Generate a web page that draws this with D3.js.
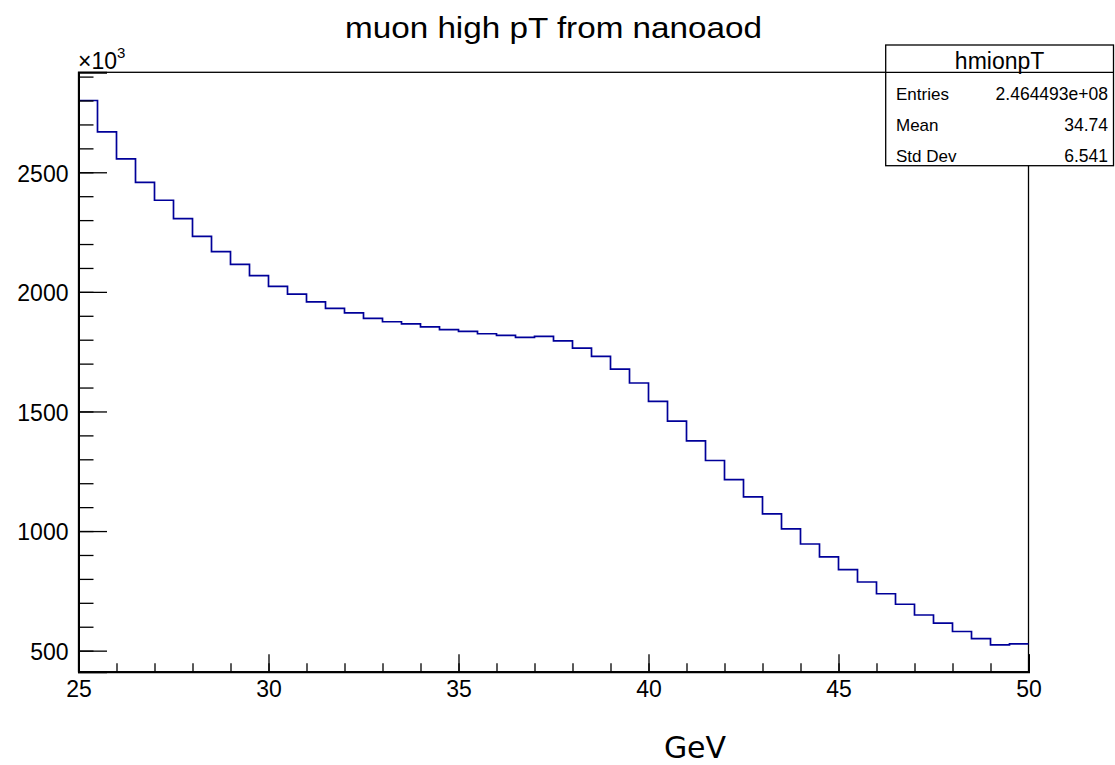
<!DOCTYPE html>
<html>
<head>
<meta charset="utf-8">
<script src="https://cdn.jsdelivr.net/npm/d3@7"></script>
<style>
  html, body { margin: 0; padding: 0; background: #fff; }
  svg { display: block; font-family: "Liberation Sans", Arial, Helvetica, sans-serif; }
</style>
</head>
<body>
<svg id="chart" width="1115" height="765"></svg>
<script>
// Histogram of muon pT, 50 bins of 0.5 GeV between 25 and 50 GeV (contents in units of 10^3)
const binLow = 25;
const binWidth = 0.5;
const binContents = [
  2800, 2669, 2556, 2458, 2383, 2306, 2232, 2168, 2115, 2068,
  2023, 1991, 1958, 1931, 1912, 1889, 1875, 1866, 1854, 1842,
  1835, 1825, 1818, 1810, 1814, 1795, 1765, 1730, 1677, 1619,
  1542, 1460, 1377, 1295, 1215, 1143, 1072, 1009, 946, 892,
  839, 787, 738, 694, 649, 615, 580, 550, 524, 528
];
const xMajorTicks = [25, 30, 35, 40, 45, 50];
const xMinorTicks = d3.range(25, 51, 1);
const yMajorTicks = [500, 1000, 1500, 2000, 2500];
const yMinorTicks = d3.range(500, 3000, 100);
const statNames = ["Entries", "Mean", "Std Dev"];
const statValues = ["2.464493e+08", "34.74", "6.541"];

const svg = d3.select("#chart");

const frame = { left: 78.5, right: 1028.5, top: 72.3, bottom: 671.7 };
const x = d3.scaleLinear().domain([25, 50]).range([frame.left, frame.right]);
const y = d3.scaleLinear().domain([412, 2918]).range([frame.bottom, frame.top]);

// frame box
svg.append("rect")
  .attr("x", frame.left).attr("y", frame.top)
  .attr("width", frame.right - frame.left).attr("height", frame.bottom - frame.top)
  .attr("fill", "none").attr("stroke", "#000").attr("stroke-width", 1.3);

// histogram outline as steps
const pts = binContents.map((v, i) => [binLow + i * binWidth, v]);
pts.push([binLow + binContents.length * binWidth, binContents[binContents.length - 1]]);
const step = d3.line().x(d => x(d[0])).y(d => y(d[1])).curve(d3.curveStepAfter);
svg.append("path")
  .attr("d", step(pts))
  .attr("fill", "none")
  .attr("stroke", "#000099")
  .attr("stroke-width", 1.7);

// y axis: minor then major ticks, drawn inward
const gyMinor = svg.append("g").attr("transform", `translate(${frame.left},0)`)
  .call(d3.axisLeft(y).tickValues(yMinorTicks).tickSize(-15).tickFormat(""));
gyMinor.select(".domain").remove();
const gy = svg.append("g").attr("transform", `translate(${frame.left},0)`)
  .call(d3.axisLeft(y).tickValues(yMajorTicks).tickSize(-28.5).tickPadding(10).tickFormat(d3.format("d")));
gy.select(".domain").attr("stroke-width", 2);
[gy, gyMinor].forEach(g => g.selectAll(".tick line").attr("stroke-width", 1.3));
gy.selectAll(".tick text").attr("font-size", 23).attr("font-family", "Liberation Sans, Arial, sans-serif").attr("dy", "0.38em");

// x axis
const gxMinor = svg.append("g").attr("transform", `translate(0,${frame.bottom})`)
  .call(d3.axisBottom(x).tickValues(xMinorTicks).tickSize(-8.5).tickFormat(""));
gxMinor.select(".domain").remove();
const gx = svg.append("g").attr("transform", `translate(0,${frame.bottom})`)
  .call(d3.axisBottom(x).tickValues(xMajorTicks).tickSize(-17.5).tickPadding(9).tickFormat(d3.format("d")));
gx.select(".domain").attr("stroke-width", 2);
[gx, gxMinor].forEach(g => g.selectAll(".tick line").attr("stroke-width", 1.3));
gx.selectAll(".tick text").attr("font-size", 23).attr("font-family", "Liberation Sans, Arial, sans-serif");

// exponent label above the y axis
const expo = svg.append("text").attr("x", 78).attr("y", 69).attr("font-size", 23).attr("fill", "#000");
expo.append("tspan").text("\u00d710");
expo.append("tspan").attr("font-size", 15).attr("dy", -11).text("3");

// title
svg.append("text")
  .attr("x", 553.5).attr("y", 38)
  .attr("text-anchor", "middle")
  .attr("font-size", 30)
  .attr("textLength", 417)
  .attr("lengthAdjust", "spacingAndGlyphs")
  .text("muon high pT from nanoaod");

// axis title
svg.append("text")
  .attr("x", 695).attr("y", 758)
  .attr("text-anchor", "middle")
  .attr("font-family", "DejaVu Sans, sans-serif")
  .attr("font-size", 30)
  .text("GeV");

// statistics box
const box = { left: 885.7, right: 1113.5, top: 45, head: 72.3, bottom: 165.7 };
svg.append("rect")
  .attr("x", box.left).attr("y", box.top)
  .attr("width", box.right - box.left).attr("height", box.bottom - box.top)
  .attr("fill", "#fff").attr("stroke", "#000").attr("stroke-width", 1.3);
svg.append("line")
  .attr("x1", box.left).attr("x2", box.right)
  .attr("y1", box.head).attr("y2", box.head)
  .attr("stroke", "#000").attr("stroke-width", 1.3);
svg.append("text")
  .attr("x", (box.left + box.right) / 2).attr("y", 69)
  .attr("text-anchor", "middle").attr("font-size", 23)
  .text("hmionpT");
const rowH = (box.bottom - box.head) / statNames.length;
statNames.forEach((name, i) => {
  const base = box.head + rowH * i + rowH * 0.9 - 0.5;
  svg.append("text").attr("x", 896).attr("y", base).attr("font-size", 17).text(name);
  svg.append("text").attr("x", 1108).attr("y", base).attr("text-anchor", "end").attr("font-size", 17.5).text(statValues[i]);
});
</script>
</body>
</html>
